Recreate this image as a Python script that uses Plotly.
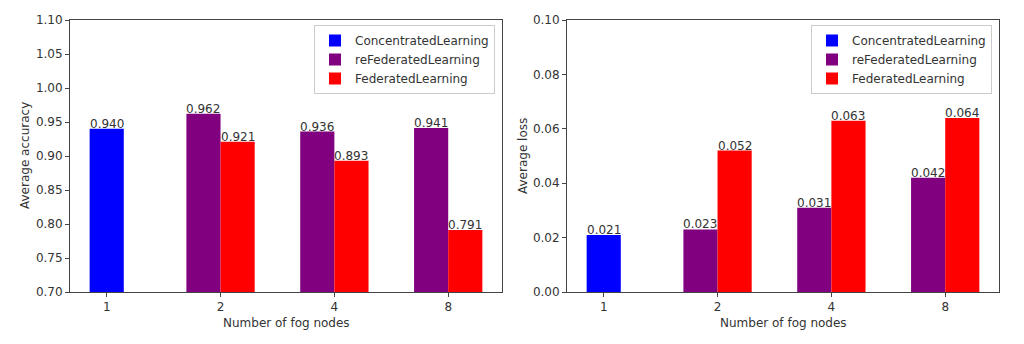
import plotly.graph_objects as go

nodes = ["1", "2", "4", "8"]
conc_x = ["1"]
fed_x = ["2", "4", "8"]

acc_conc = [0.940]
acc_refed = [0.962, 0.936, 0.941]
acc_fed = [0.921, 0.893, 0.791]

loss_conc = [0.021]
loss_refed = [0.023, 0.031, 0.042]
loss_fed = [0.052, 0.063, 0.064]

C_BLUE = "#0000ff"
C_PURPLE = "#800080"
C_RED = "#ff0000"
FONT = "DejaVu Sans"
TXT = "#333333"
FS = 12
BAR_W = 0.3

fig = go.Figure()
annots = []

def add_bars(y_conc, y_refed, y_fed, xa, ya, legend):
    common = dict(xaxis=xa, yaxis=ya, legend=legend, width=BAR_W)
    series = [
        (conc_x, y_conc, "ConcentratedLearning", C_BLUE, -BAR_W / 2),
        (fed_x, y_refed, "reFederatedLearning", C_PURPLE, -BAR_W),
        (fed_x, y_fed, "FederatedLearning", C_RED, 0.0),
    ]
    for xs, ys, name, col, off in series:
        fig.add_trace(go.Bar(x=xs, y=ys, name=name,
                             marker=dict(color=col, line=dict(width=0)),
                             offset=off, **common))
        for xv, yv in zip(xs, ys):
            annots.append(dict(
                x=nodes.index(xv) + off + BAR_W / 2, y=yv,
                xref=xa, yref=ya, text=f"{yv:.3f}", showarrow=False,
                xanchor="center", yanchor="bottom", yshift=-4,
                font=dict(family=FONT, size=FS, color=TXT)))

add_bars(acc_conc, acc_refed, acc_fed, "x", "y", "legend")
add_bars(loss_conc, loss_refed, loss_fed, "x2", "y2", "legend2")

ydom = [1 - 292 / 344, 1 - 20 / 344]
axfont = dict(family=FONT, size=FS, color=TXT)
xcommon = dict(type="category", categoryorder="array", categoryarray=nodes,
               range=[-0.3225, 3.4725], showline=True, linecolor="#444",
               linewidth=1, mirror=True, ticks="outside", ticklen=4,
               tickcolor="#444", tickfont=axfont, showgrid=False,
               zeroline=False, automargin=False)
ycommon = dict(showline=True, linecolor="#444", linewidth=1, mirror=True,
               ticks="outside", ticklen=4, tickcolor="#444", tickfont=axfont,
               showgrid=False, zeroline=False, automargin=False)

for txt, xc in [("Number of fog nodes", (70 + 502) / 2),
                ("Number of fog nodes", (567 + 999) / 2)]:
    annots.append(dict(text=txt, x=xc / 1024, y=1 - 323 / 344,
                       xref="paper", yref="paper", showarrow=False,
                       xanchor="center", yanchor="middle",
                       font=dict(family=FONT, size=FS, color=TXT)))
for txt, xc in [("Average accuracy", 25), ("Average loss", 523)]:
    annots.append(dict(text=txt, x=xc / 1024, y=1 - 156 / 344,
                       xref="paper", yref="paper", showarrow=False,
                       textangle=-90, xanchor="center", yanchor="middle",
                       font=dict(family=FONT, size=FS, color=TXT)))

legcommon = dict(xanchor="right", yanchor="top", bgcolor="white",
                 bordercolor="#cccccc", borderwidth=1,
                 font=dict(family=FONT, size=FS, color=TXT),
                 tracegroupgap=0, itemwidth=30)

fig.update_layout(
    width=1024, height=344,
    margin=dict(l=0, r=0, t=0, b=0),
    paper_bgcolor="white", plot_bgcolor="white",
    barmode="overlay",
    font=dict(family=FONT, color=TXT),
    xaxis=dict(domain=[70 / 1024, 502 / 1024], anchor="y", **xcommon),
    yaxis=dict(domain=ydom, anchor="x", range=[0.70, 1.10], dtick=0.05,
               tickformat=".2f", **ycommon),
    xaxis2=dict(domain=[567 / 1024, 999 / 1024], anchor="y2", **xcommon),
    yaxis2=dict(domain=ydom, anchor="x2", range=[0, 0.10], dtick=0.02,
                tickformat=".2f", **ycommon),
    legend=dict(x=495 / 1024, y=1 - 25 / 344, **legcommon),
    legend2=dict(x=992 / 1024, y=1 - 25 / 344, **legcommon),
    annotations=annots,
)

fig.write_html("out.html")
